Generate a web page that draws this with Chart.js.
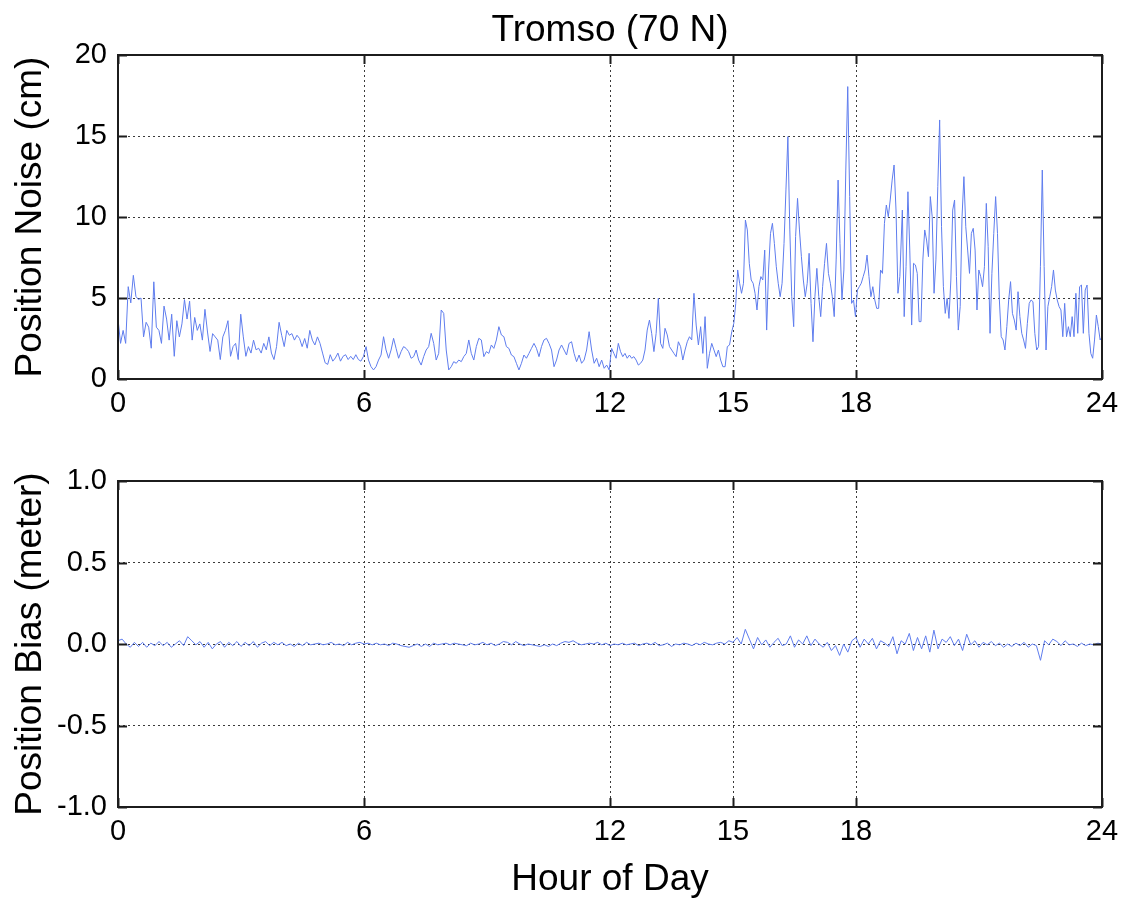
<!DOCTYPE html>
<html><head><meta charset="utf-8">
<script src="https://cdn.jsdelivr.net/npm/chart.js@4/dist/chart.umd.min.js"></script>
<style>
html,body{margin:0;padding:0;background:#fff;}
#wrap{position:relative;width:1130px;height:902px;background:#fff;}
canvas{position:absolute;left:0;}
</style></head><body>
<div id="wrap">
<canvas id="topChart" width="1130" height="440" style="top:0px"></canvas>
<canvas id="botChart" width="1130" height="462" style="top:440px"></canvas>
</div>
<script>
// ---------------- data ----------------
const chartTitle = 'Tromso (70 N)';
const xAxisTitle = 'Hour of Day';
const noiseAxisTitle = 'Position Noise (cm)';
const biasAxisTitle = 'Position Bias (meter)';
const hourTicks = [0, 6, 12, 15, 18, 24];
const noiseTicks = [0, 5, 10, 15, 20];
const biasTicks = [-1.0, -0.5, 0.0, 0.5, 1.0];

// position noise (cm), read in pieces; each piece spans the hours given in noiseSpans
const noise00to06 = [3.7,2.2,3.0,2.2,5.7,4.7,6.4,5.1,4.9,5.0,2.6,3.5,3.2,1.9,6.0,3.2,3.0,2.2,4.5,3.7,2.4,4.0,1.4,3.6,2.6,3.4,4.9,3.7,4.8,2.4,3.8,3.0,3.4,2.4,4.3,2.9,1.7,2.8,2.6,2.4,1.2,2.6,3.0,3.6,1.4,2.0,2.2,1.2,4.0,2.6,1.4,2.0,1.6,2.4,1.8,1.9,1.6,2.2,1.8,2.6,1.6,1.2,2.0,3.5,2.7,2.0,3.0,2.7,2.8,2.4,2.7,2.5,2.0,2.5,1.9,3.0,2.4,2.1,2.6,2.2,1.6,1.0,0.9,1.5,1.1,1.3,1.6,1.1,1.4,1.5,1.2,1.4,1.2,1.5,1.2,1.1,1.4,2.0];
const noise06to12 = [1.17,0.76,0.56,0.76,1.17,1.48,2.61,1.79,1.28,1.79,2.51,1.89,1.28,1.69,2.0,1.89,1.69,1.28,1.38,1.79,1.17,0.86,1.38,1.79,2.0,2.82,2.2,1.17,1.58,4.26,4.05,1.79,0.56,0.76,1.07,0.97,1.17,1.07,1.38,1.58,2.41,1.58,1.17,2.0,2.51,2.41,1.38,1.69,1.58,2.1,1.89,2.41,3.23,2.72,2.61,2.0,1.89,1.48,1.38,0.97,0.56,0.97,1.48,1.28,1.58,1.89,2.2,1.89,1.38,2.0,2.41,2.51,2.2,1.79,0.76,1.17,1.79,2.1,1.79,1.48,2.2,2.3,1.58,1.07,1.48,0.97,1.17,1.79,2.92,1.79,0.97,1.28,0.76,1.17,0.66,0.86,0.56];
const noise12to15 = [1.89,1.58,1.28,2.2,1.69,1.38,1.58,1.28,1.48,1.28,1.38,1.17,0.86,0.97,1.17,1.79,3.02,3.64,2.82,1.69,2.82,4.98,2.2,1.89,3.13,2.72,2.0,1.79,1.58,1.38,2.3,2.0,1.17,1.79,2.3,2.61,2.41,5.29,3.33,2.1,3.23,1.58,3.85,0.66,1.58,2.2,1.79,1.38,1.79,1.17,0.76,0.76,2.0,2.1,2.92];
const noise15to19 = [3.44,4.67,6.73,5.91,5.29,5.91,9.81,9.2,7.14,6.11,5.91,5.29,4.26,5.7,6.32,6.11,7.96,3.02,6.73,8.99,9.61,8.37,6.93,5.91,5.08,5.91,8.37,11.67,14.96,9.2,5.08,3.23,8.79,11.15,9.2,7.55,6.11,5.08,5.91,7.76,4.67,2.3,5.08,6.83,5.08,3.85,5.7,7.14,8.37,6.52,5.91,5.08,3.85,7.35,12.28,8.37,4.88,6.73,12.9,18.05,11.26,4.67,4.88,3.85,5.49,5.7,5.91,6.32,6.73,7.65,6.32,5.08,5.7,4.88,4.36,4.36,6.73,6.52,9.61,10.74,10.02,11.05,12.28,13.21,10.43,5.29,6.32];
const noise19to24 = [10.43,3.85,6.93,11.56,7.96,3.33,7.14,7.04,6.52,3.54,3.54,7.35,9.2,8.58,7.55,11.26,10.02,5.29,7.35,11.87,15.99,9.4,5.7,4.05,4.98,3.74,6.11,10.43,11.05,6.32,3.02,4.47,10.02,12.49,9.4,7.96,6.52,8.99,9.3,7.96,4.26,6.73,6.32,5.7,6.93,10.84,8.17,2.82,6.52,8.99,11.26,8.99,4.88,2.61,2.41,1.79,3.23,4.88,6.01,4.05,3.64,3.02,5.39,3.85,2.82,2.41,1.89,3.44,4.67,4.88,4.77,2.82,1.79,2.0,6.93,12.9,6.93,1.79,4.47,5.08,5.7,6.73,5.49,4.88,4.47,4.26,2.61,4.67,2.61,3.23,2.61,3.85,2.61,5.29,2.82,5.7,5.8,2.82,5.49,5.8,2.82,1.58,1.28,2.41,3.95,3.23,2.41,2.61];
const noiseSpans = [[0, 6.05], [6.11, 11.98], [12.04, 14.97], [15.02, 19.07], [19.13, 24]];

// position bias (meter), one value every 0.1 hour from hour 0
const biasStartHour = 0;
const biasStepHour = 0.1;
const biasValues = [
 0.02,0.03,0.0,-0.02,0.01,-0.015,0.01,-0.02,0.005,-0.01,
 0.015,-0.01,0.01,-0.02,0.0,0.02,-0.01,0.045,0.02,-0.005,
 0.015,-0.02,0.01,-0.03,0.0,0.015,-0.02,0.01,-0.01,0.015,
 -0.015,0.01,-0.01,0.015,-0.02,0.005,0.015,-0.01,0.01,-0.005,
 0.01,-0.01,0.0,-0.015,0.005,-0.01,0.01,-0.005,0.0,0.005,
 -0.005,0.0,0.01,-0.005,0.0,-0.01,0.01,-0.005,0.005,0.01,
 0.0,0.005,-0.005,0.005,-0.005,0.0,-0.01,0.005,0.0,-0.01,
 -0.015,-0.02,-0.01,0.0,-0.015,0.0,-0.015,0.005,-0.005,0.0,
 0.005,-0.005,0.005,0.0,-0.005,-0.01,0.005,-0.005,0.0,0.01,
 -0.005,0.005,-0.01,0.0,0.015,0.01,-0.005,0.015,0.0,-0.01,
 0.0,-0.005,-0.01,-0.015,-0.005,-0.015,0.0,-0.01,0.005,0.015,
 0.01,0.02,0.005,-0.005,0.0,0.005,0.0,0.01,-0.005,0.005,
 -0.01,0.0,-0.005,0.005,-0.005,0.0,0.005,-0.01,0.0,0.005,
 -0.005,0.01,-0.01,-0.005,0.005,-0.015,0.0,-0.005,0.005,0.0,
 -0.01,0.005,-0.005,0.01,0.0,-0.005,0.005,0.01,0.0,0.02,
 0.01,0.04,0.0,0.09,0.03,-0.03,0.04,-0.005,0.025,-0.02,
 0.01,0.035,-0.01,0.0,0.05,-0.02,0.025,0.0,0.05,-0.01,
 0.03,0.0,-0.02,0.01,-0.04,-0.01,-0.07,0.0,-0.05,0.02,
 0.04,-0.02,0.03,0.0,0.035,-0.03,0.02,0.005,-0.015,0.045,
 -0.06,0.02,0.0,0.065,-0.04,0.04,-0.03,0.05,-0.05,0.085,
 -0.03,0.03,0.01,0.045,-0.01,0.03,-0.04,0.06,-0.005,0.02,
 -0.02,0.01,-0.005,0.015,-0.01,0.005,-0.02,0.0,-0.015,0.005,
 -0.01,0.01,-0.02,0.0,-0.01,-0.1,0.02,-0.005,0.03,0.015,
 -0.01,0.02,-0.005,0.0,-0.015,0.005,-0.01,0.0,-0.005,0.005,0.0
];

// ---------------- build ----------------
const FONT = "'Liberation Sans', Arial, Helvetica, sans-serif";
Chart.defaults.font.family = FONT;
Chart.defaults.color = '#000';

function spread(values, span) {
  const n = values.length;
  return values.map((v, i) => ({x: span[0] + (span[1] - span[0]) * i / (n - 1), y: v}));
}
const noisePoints = [noise00to06, noise06to12, noise12to15, noise15to19, noise19to24]
  .flatMap((arr, k) => spread(arr, noiseSpans[k]));
const biasPoints = biasValues.map((v, i) => ({x: biasStartHour + i * biasStepHour, y: v}));

const framePlugin = {
  id: 'frame',
  afterDatasetsDraw(chart, args, opts) {
    const {ctx, chartArea: a, scales} = chart;
    ctx.save();
    ctx.strokeStyle = '#1c1c1c';
    ctx.lineWidth = 2;
    const tl = 9;
    ctx.beginPath();
    scales.x.ticks.forEach(t => {
      const px = Math.round(scales.x.getPixelForValue(t.value)) + 0.5;
      ctx.moveTo(px, a.bottom); ctx.lineTo(px, a.bottom - tl);
      ctx.moveTo(px, a.top); ctx.lineTo(px, a.top + tl);
    });
    scales.y.ticks.forEach(t => {
      const py = Math.round(scales.y.getPixelForValue(t.value)) + 0.5;
      ctx.moveTo(a.left, py); ctx.lineTo(a.left + tl, py);
      ctx.moveTo(a.right, py); ctx.lineTo(a.right - tl, py);
    });
    ctx.stroke();
    ctx.lineWidth = 2;
    ctx.strokeRect(a.left, a.top, a.right - a.left, a.bottom - a.top);
    if (opts.title) {
      ctx.fillStyle = '#000';
      ctx.font = '37px ' + FONT;
      ctx.textAlign = 'center';
      ctx.textBaseline = 'middle';
      ctx.fillText(opts.title, (a.left + a.right) / 2, opts.titleY);
    }
    ctx.restore();
  }
};

function makeChart(id, cfg) {
  return new Chart(document.getElementById(id), {
    type: 'line',
    data: {datasets: [{
      data: cfg.points,
      borderColor: 'rgb(95,125,238)',
      borderWidth: 1,
      pointRadius: 0,
      tension: 0,
      fill: false
    }]},
    plugins: [framePlugin],
    options: {
      responsive: false,
      animation: false,
      devicePixelRatio: 1,
      parsing: false,
      layout: {padding: {left: 8, right: 28, top: cfg.padTop, bottom: 0}},
      plugins: {
        legend: {display: false},
        tooltip: {enabled: false},
        frame: {title: cfg.title, titleY: cfg.titleY}
      },
      scales: {
        x: {
          type: 'linear', min: 0, max: 24,
          afterBuildTicks: s => { s.ticks = hourTicks.map(v => ({value: v})); },
          afterFit: s => { s.height = cfg.xHeight; },
          ticks: {font: {size: 29}, padding: 8, maxRotation: 0, autoSkip: false, color: '#000',
                  callback: v => String(v)},
          grid: {drawTicks: false, color: '#3a3a3a', lineWidth: 1},
          border: {display: false, dash: [2, 3]},
          title: {display: !!cfg.xTitle, text: cfg.xTitle || '', font: {size: 37}, color: '#000',
                  padding: {top: 0, bottom: 0}}
        },
        y: {
          type: 'linear', min: cfg.yTicks[0], max: cfg.yTicks[cfg.yTicks.length - 1],
          afterBuildTicks: s => { s.ticks = cfg.yTicks.map(v => ({value: v})); },
          afterFit: s => { s.width = 110; },
          ticks: {font: {size: 29}, padding: 11, autoSkip: false, color: '#000', callback: cfg.yFmt},
          grid: {drawTicks: false, color: '#3a3a3a', lineWidth: 1},
          border: {display: false, dash: [2, 3]},
          title: {display: true, text: cfg.yTitle, font: {size: 37}, color: '#000',
                  padding: {top: 1, bottom: 0}}
        }
      }
    }
  });
}

makeChart('topChart', {
  points: noisePoints, yTicks: noiseTicks, yTitle: noiseAxisTitle,
  yFmt: v => String(v), padTop: 55, xHeight: 61, title: chartTitle, titleY: 31
});
makeChart('botChart', {
  points: biasPoints, yTicks: biasTicks, yTitle: biasAxisTitle,
  yFmt: v => Number(v).toFixed(1), padTop: 41, xHeight: 95, xTitle: xAxisTitle
});
</script>
</body></html>
